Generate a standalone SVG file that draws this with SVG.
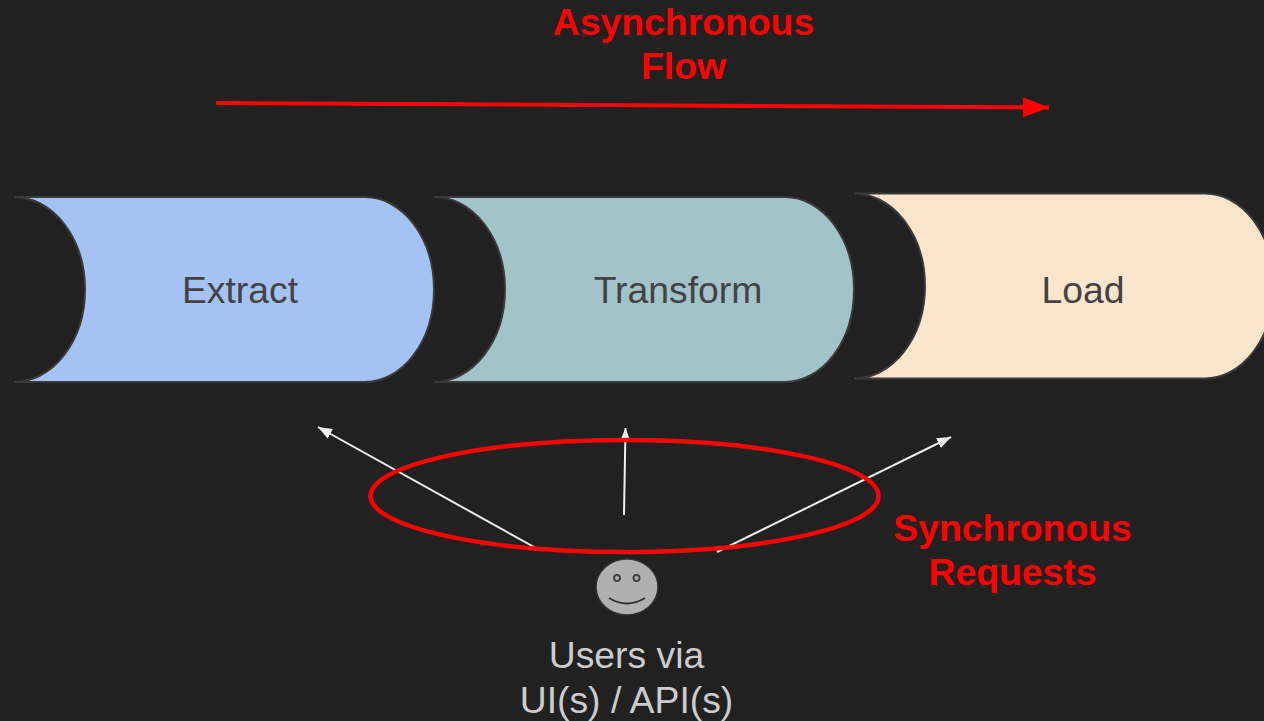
<svg xmlns="http://www.w3.org/2000/svg" width="1264" height="721" viewBox="0 0 1264 721">
<style>
text{font-family:"Liberation Sans",Arial,sans-serif;font-size:37.33px;text-anchor:middle}
.lbl{fill:#434343}
.red{fill:#ff0000;font-weight:bold}
.usr{fill:#cccccc}
.stage{stroke:#3a3a3a;stroke-width:2}
.thin{stroke:#efefef;stroke-width:2;fill:none;marker-end:url(#wh)}
</style>
<defs>
<marker id="wh" markerUnits="userSpaceOnUse" markerWidth="15" markerHeight="12" refX="14" refY="5.500" orient="auto"><path d="M0 0L14 5.500L0 11Z" fill="#efefef"/></marker>
<marker id="rd" markerUnits="userSpaceOnUse" markerWidth="27" markerHeight="20" refX="26" refY="10" orient="auto"><path d="M0 0L26 10L0 20Z" fill="#ff0000"/></marker>
</defs>
<rect width="1264" height="721" fill="#212121"/>
<g id="extract"><path class="stage" fill="#a4c2f4" d="M14 197H365A69 92.500 0 0 1 365 382H14A71 92.500 0 0 0 14 197Z"/><text class="lbl" x="240" y="303">Extract</text></g>
<g id="transform"><path class="stage" fill="#a2c4c9" d="M434 197H785A69 92.500 0 0 1 785 382H434A71 92.500 0 0 0 434 197Z"/><text class="lbl" x="678" y="303">Transform</text></g>
<g id="load"><path class="stage" fill="#fce5cd" d="M854 193.500H1205A69 92.500 0 0 1 1205 378.500H854A71 92.500 0 0 0 854 193.500Z"/><text class="lbl" x="1083" y="303">Load</text></g>
<g id="connectors">
<path d="M216 103L1049 107.500" stroke="#ff0000" stroke-width="4" fill="none" marker-end="url(#rd)"/>
<path class="thin" d="M534 547L318 427"/>
<path class="thin" d="M624 515L625.500 428"/>
<path class="thin" d="M717 552L951 437"/>
</g>
<g id="sync-ellipse"><ellipse cx="624.500" cy="496" rx="254" ry="56" fill="none" stroke="#ff0000" stroke-width="4.500"/></g>
<g id="users"><ellipse cx="627" cy="587" rx="31" ry="28" fill="#b0b0b0" stroke="#333333" stroke-width="1.500"/><circle cx="617" cy="578" r="3" fill="#b0b0b0" stroke="#434343" stroke-width="2"/><circle cx="636.500" cy="578" r="3" fill="#b0b0b0" stroke="#434343" stroke-width="2"/><path d="M609 598Q627 609 645 598" fill="none" stroke="#333333" stroke-width="2"/><text class="usr" x="626.500" y="668">Users via</text><text class="usr" x="626.500" y="713">UI(s) / API(s)</text></g>
<g id="async-label"><text class="red" x="683.500" y="35">Asynchronous</text><text class="red" x="683.500" y="79">Flow</text></g>
<g id="sync-label"><text class="red" x="1012.500" y="541">Synchronous</text><text class="red" x="1012.500" y="585">Requests</text></g>
</svg>
